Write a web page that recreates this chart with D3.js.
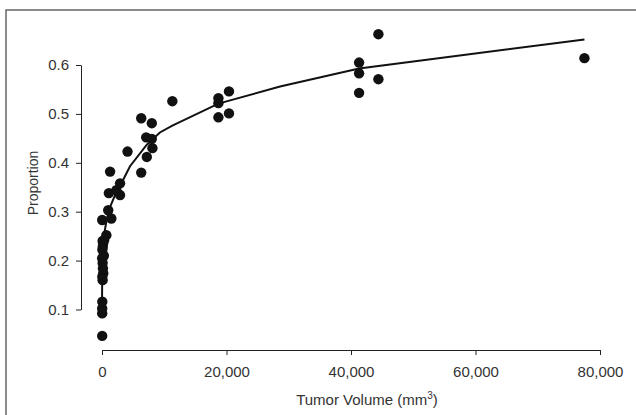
<!DOCTYPE html>
<html>
<head>
<meta charset="utf-8">
<script src="https://cdn.jsdelivr.net/npm/d3@7"></script>
<style>
  body { margin: 0; background: #fff; }
  text { font-family: "Liberation Sans", Arial, sans-serif; fill: #333; }
</style>
</head>
<body>
<svg width="636" height="415"></svg>
<script>
// tumor volume (mm3) and proportion for each observation
const volume = [30, 30, 30, 50, 100, 50, 200, 150, 100, 30, 300, 60, 120, 100, 180, 350, 700, 30,
  1000, 1500, 1100, 2300, 2900, 2900, 1300,
  4100, 6300, 6300, 7100, 7200, 8000, 8000, 8100, 11300,
  18700, 18700, 18700, 20400, 20400,
  41300, 41300, 41300, 44400, 44400, 77500];
const proportion = [0.046, 0.092, 0.102, 0.116, 0.160, 0.167, 0.174, 0.184, 0.195, 0.205, 0.210, 0.222, 0.228, 0.240, 0.235, 0.242, 0.252, 0.283,
  0.303, 0.286, 0.338, 0.344, 0.334, 0.358, 0.382,
  0.423, 0.380, 0.491, 0.452, 0.412, 0.481, 0.449, 0.430, 0.526,
  0.532, 0.522, 0.493, 0.546, 0.501,
  0.605, 0.583, 0.543, 0.663, 0.571, 0.614];

// smoothed fit line
const fitX = [0, 30, 100, 300, 700, 1300, 2300, 3000, 4500, 7200, 9300, 11300, 18700, 28600, 41300, 77500];
const fitY = [0.11, 0.16, 0.21, 0.25, 0.28, 0.31, 0.34, 0.355, 0.393, 0.437, 0.462, 0.476, 0.521, 0.556, 0.593, 0.652];

const xTicks = [0, 20000, 40000, 60000, 80000];
const yTicks = [0.1, 0.2, 0.3, 0.4, 0.5, 0.6];

let svg = d3.select("svg");

// frame round the figure
svg.append("rect")
    .attr("x", 6)
    .attr("y", 10)
    .attr("width", 660)
    .attr("height", 440)
    .attr("fill", "none")
    .attr("stroke", "#666")
    .attr("stroke-width", 1.5);

let x = d3.scaleLinear().domain([0, 80000]).range([102, 600]);
let y = d3.scaleLinear().domain([0.1, 0.6]).range([309.5, 65]);

let xAxis = svg.append("g")
    .attr("transform", "translate(0,350)")
    .call(d3.axisBottom(x)
        .tickValues(xTicks)
        .tickFormat(d3.format(","))
        .tickSize(5)
        .tickPadding(11)
        .tickSizeOuter(0));

let yAxis = svg.append("g")
    .attr("transform", "translate(81,0)")
    .call(d3.axisLeft(y)
        .tickValues(yTicks)
        .tickFormat(d3.format(".1f"))
        .tickSize(5)
        .tickPadding(7)
        .tickSizeOuter(0));

[xAxis, yAxis].forEach(g => {
    g.select(".domain").attr("stroke", "#222");
    g.selectAll(".tick line").attr("stroke", "#222");
    g.selectAll(".tick text")
        .attr("fill", "#333")
        .style("font-size", "15px")
        .style("font-family", "Liberation Sans, Arial, sans-serif");
});

let line = d3.line()
    .x(d => x(d[0]))
    .y(d => y(d[1]));

svg.append("path")
    .datum(fitX.map((v, i) => [v, fitY[i]]))
    .attr("fill", "none")
    .attr("stroke", "#111")
    .attr("stroke-width", 2)
    .attr("d", line);

svg.selectAll(".dot")
    .data(volume.map((v, i) => [v, proportion[i]]))
    .enter()
    .append("circle")
    .attr("class", "dot")
    .attr("cx", d => x(d[0]))
    .attr("cy", d => y(d[1]))
    .attr("r", 5.2)
    .attr("fill", "#111");

// axis titles
let xt = svg.append("text")
    .attr("x", 367)
    .attr("y", 405)
    .attr("text-anchor", "middle")
    .style("font-size", "15px");
xt.append("tspan").text("Tumor Volume (mm");
xt.append("tspan").attr("dy", -6).style("font-size", "10px").text("3");
xt.append("tspan").attr("dy", 6).text(")");

svg.append("text")
    .attr("transform", "translate(38,183) rotate(-90)")
    .attr("text-anchor", "middle")
    .style("font-size", "14px")
    .text("Proportion");
</script>
</body>
</html>
